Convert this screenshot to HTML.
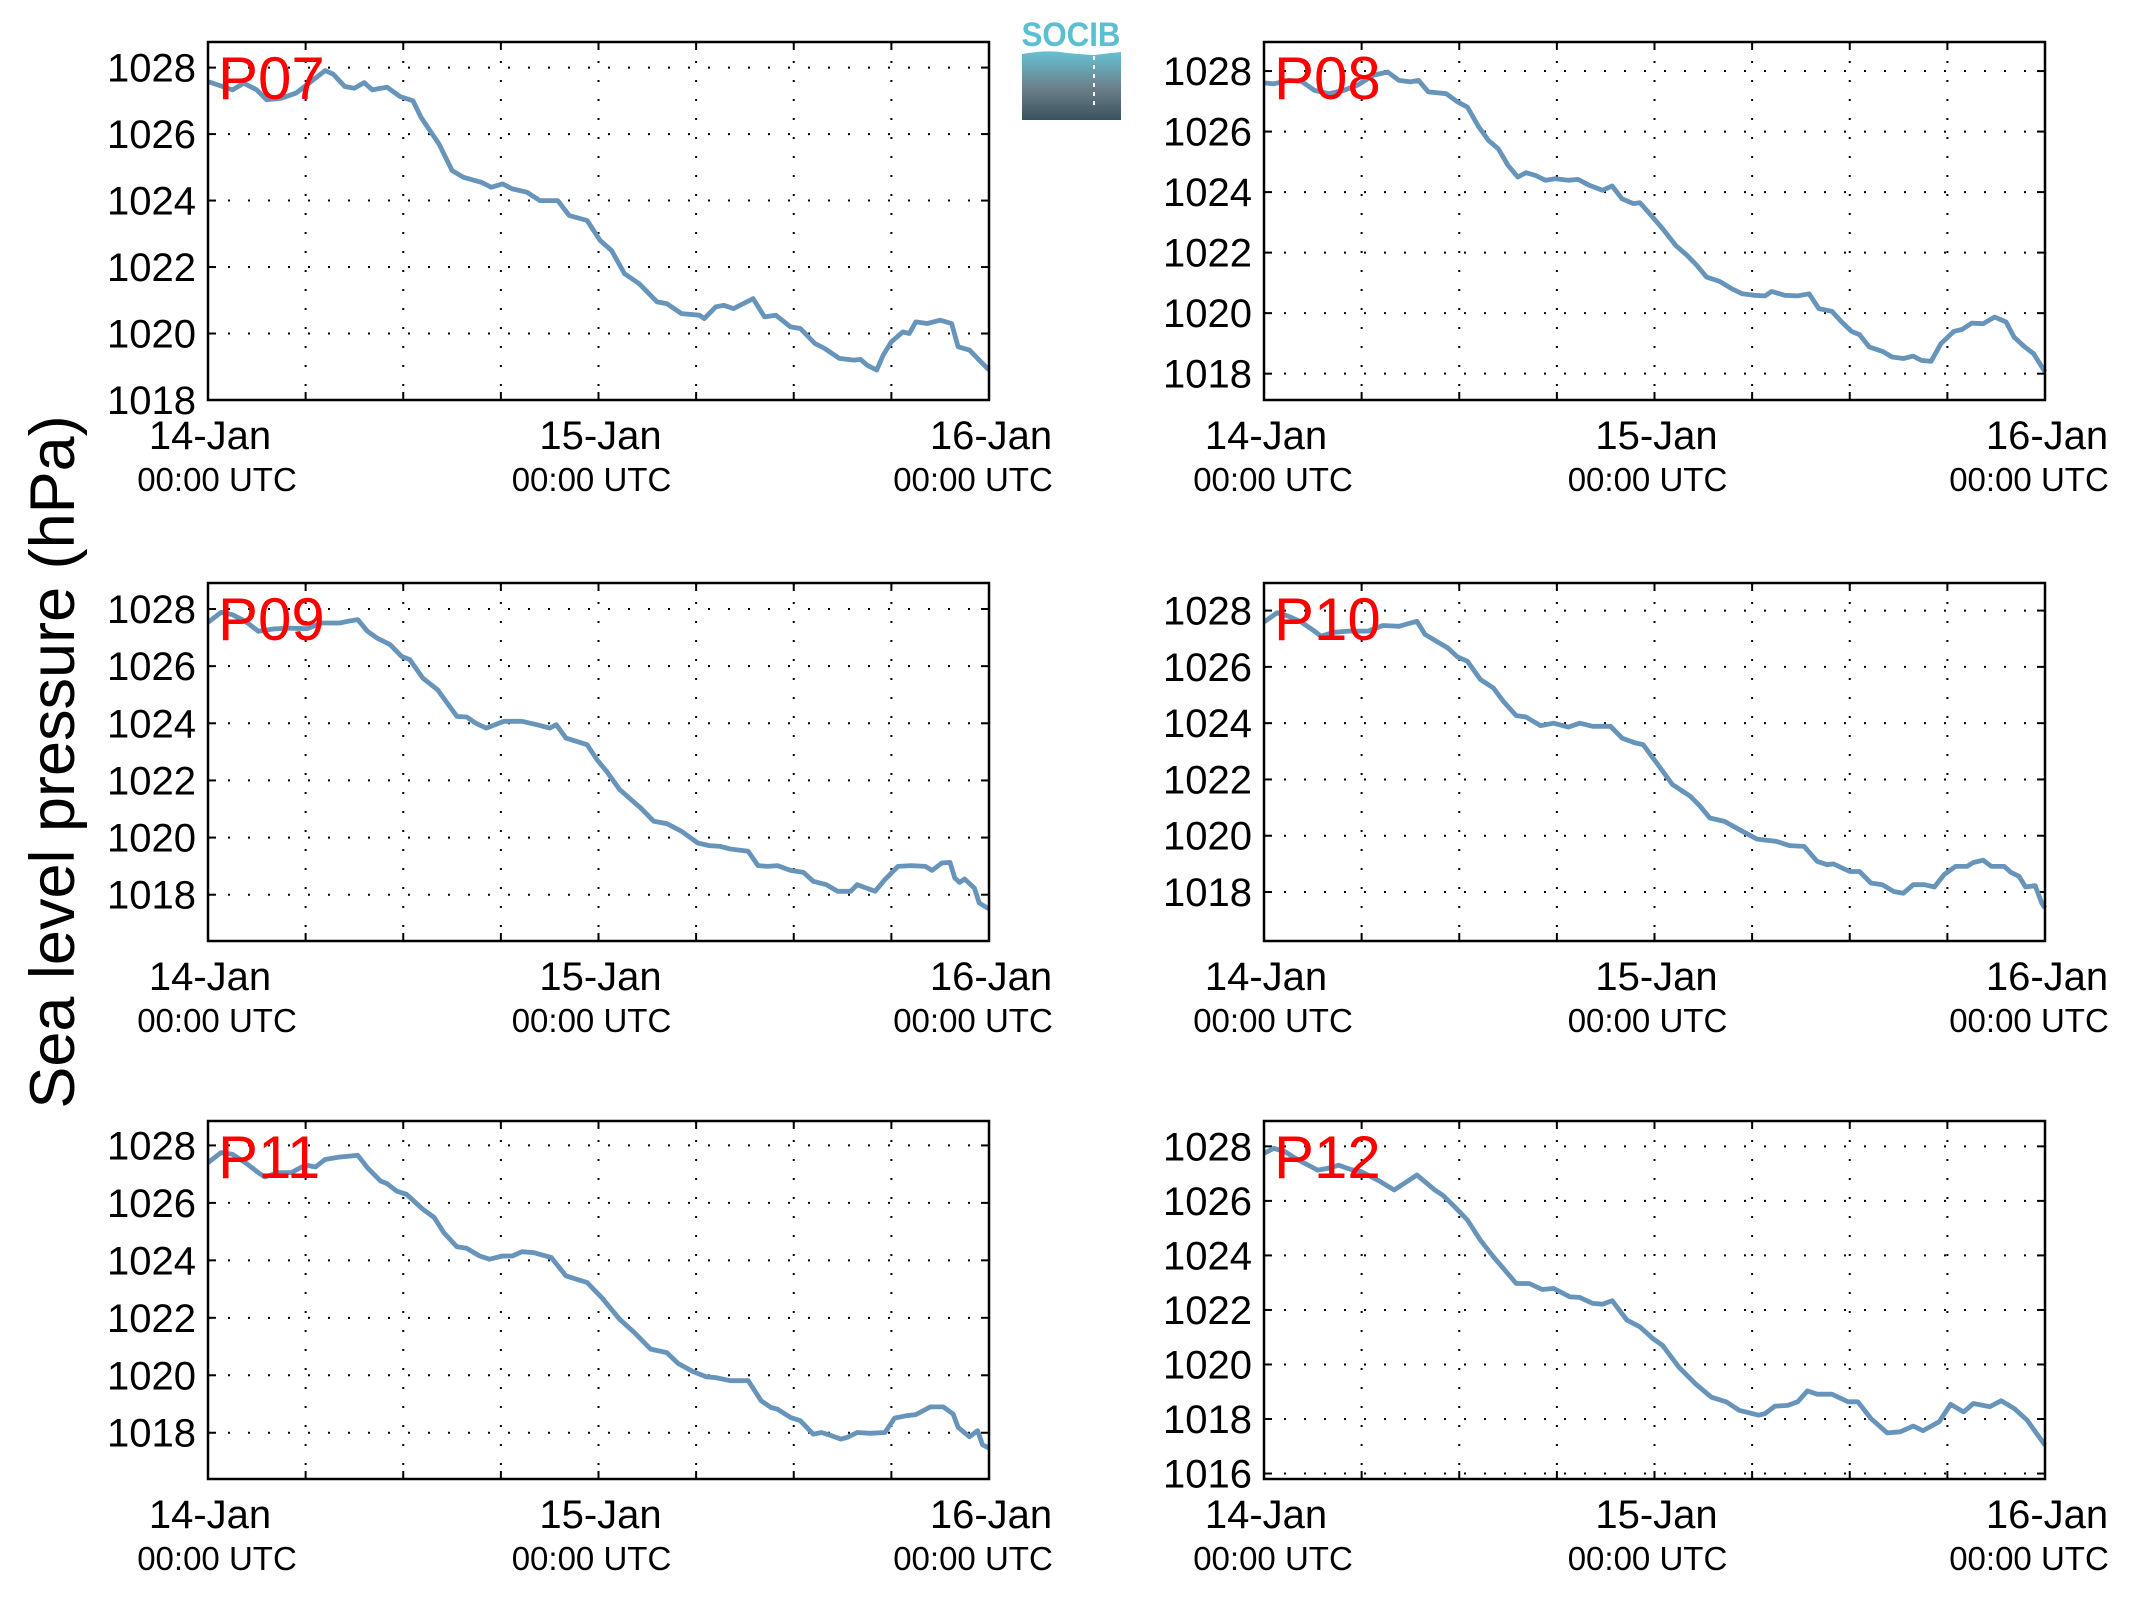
<!DOCTYPE html>
<html><head><meta charset="utf-8"><style>
html,body{margin:0;padding:0;background:#fff;}
svg{display:block;}
text{font-family:"Liberation Sans",Arial,sans-serif;}
</style></head><body>
<svg id="fig" width="2138" height="1608" viewBox="0 0 2138 1608" xmlns="http://www.w3.org/2000/svg">
<rect width="2138" height="1608" fill="#fff"/>
<g id="logo">
<defs><linearGradient id="lg" x1="0" y1="0" x2="0" y2="1"><stop offset="0" stop-color="#66c1d3"/><stop offset="0.55" stop-color="#6a7f88"/><stop offset="1" stop-color="#3a5260"/></linearGradient></defs>
<text x="1071" y="46" text-anchor="middle" font-size="34" font-weight="bold" fill="#5bbfd2" textLength="99" lengthAdjust="spacingAndGlyphs">SOCIB</text>
<path d="M1022,54 Q1045,50 1060,52 T1094,55 Q1110,53 1121,52 L1121,120 L1022,120 Z" fill="url(#lg)"/>
<line x1="1094" y1="56" x2="1094" y2="106" stroke="#fff" stroke-width="2" stroke-dasharray="4,5"/>
</g>
<text transform="translate(74,762) rotate(-90)" text-anchor="middle" font-size="63" fill="#000">Sea level pressure (hPa)</text>
<g id="panels"></g>
</svg>
<script>
const p07Hours=[0,0.6,1.5,2.2,3,3.6,4.5,5.4,6.2,7.2,7.7,8.4,9,9.6,10.1,11,11.8,12.6,13.1,14.2,15,15.7,16.8,17.4,18.1,18.7,19.6,20.4,21.5,22.2,23.3,24.1,24.8,25.6,26.5,27.6,28.2,29.1,30.2,30.5,31.2,31.7,32.3,33.5,34.2,34.9,35.8,36.4,37.3,37.9,38.8,39.7,40.1,40.5,41.1,41.5,42,42.7,43.1,43.5,44.2,45,45.7,46.1,46.8,47.4,48];
const p07Values=[1027.58,1027.48,1027.33,1027.53,1027.33,1027.03,1027.08,1027.23,1027.53,1027.91,1027.8,1027.43,1027.38,1027.55,1027.33,1027.41,1027.13,1027.0,1026.5,1025.7,1024.9,1024.7,1024.55,1024.4,1024.5,1024.35,1024.25,1024.0,1024.0,1023.55,1023.4,1022.8,1022.5,1021.8,1021.5,1020.95,1020.9,1020.6,1020.55,1020.45,1020.8,1020.85,1020.75,1021.05,1020.5,1020.55,1020.2,1020.15,1019.7,1019.55,1019.25,1019.2,1019.22,1019.05,1018.9,1019.35,1019.75,1020.05,1020.0,1020.35,1020.3,1020.4,1020.3,1019.6,1019.5,1019.2,1018.9];
const p08Hours=[0,0.6,1.5,2.3,3.1,4,4.9,5.8,6.7,7.6,8.3,9,9.5,10.1,11.2,11.9,12.5,13.2,13.8,14.4,15,15.6,16.1,16.7,17.3,17.9,18.7,19.3,20,20.8,21.4,22,22.7,23.1,23.7,24.5,25.3,26,26.6,27.2,28,28.8,29.4,30.1,30.8,31.2,32,32.8,33.5,34.1,34.9,35.5,36.1,36.6,37.2,38,38.6,39.3,39.9,40.4,41,41.6,42.4,42.9,43.5,44.2,44.9,45.6,46.1,46.7,47.3,48];
const p08Values=[1027.61,1027.58,1027.69,1027.66,1027.36,1027.25,1027.36,1027.55,1027.86,1027.97,1027.69,1027.64,1027.69,1027.31,1027.25,1026.98,1026.81,1026.15,1025.71,1025.43,1024.88,1024.5,1024.64,1024.55,1024.39,1024.44,1024.39,1024.42,1024.22,1024.06,1024.2,1023.78,1023.62,1023.65,1023.29,1022.79,1022.24,1021.91,1021.58,1021.19,1021.05,1020.79,1020.64,1020.59,1020.57,1020.72,1020.59,1020.57,1020.64,1020.15,1020.06,1019.71,1019.4,1019.29,1018.88,1018.74,1018.55,1018.5,1018.58,1018.44,1018.41,1018.99,1019.4,1019.46,1019.67,1019.65,1019.87,1019.71,1019.21,1018.91,1018.66,1018.06];
const p09Hours=[0,0.8,1.5,2.3,3.1,4,4.9,6.1,7,8.1,8.6,9.2,9.8,10.4,11.2,11.9,12.4,13.2,14.1,14.7,15.3,15.9,16.5,17.1,18.2,19.3,20.2,21,21.4,22,23.3,23.9,24.5,25.3,26,26.6,27.4,28.2,29.1,30.1,30.8,31.5,32.1,33.2,33.8,34.4,35,35.8,36.6,37.2,38,38.7,39.5,39.9,41,41.6,42.4,43.2,44.1,44.5,45.1,45.6,45.9,46.2,46.5,47.1,47.4,48];
const p09Values=[1027.53,1027.88,1027.8,1027.57,1027.22,1027.3,1027.33,1027.31,1027.51,1027.51,1027.57,1027.63,1027.22,1026.98,1026.75,1026.34,1026.23,1025.58,1025.18,1024.71,1024.24,1024.22,1023.99,1023.83,1024.07,1024.07,1023.95,1023.83,1023.95,1023.48,1023.25,1022.73,1022.32,1021.68,1021.33,1021.03,1020.57,1020.49,1020.22,1019.81,1019.72,1019.69,1019.6,1019.52,1019.02,1018.99,1019.02,1018.85,1018.78,1018.47,1018.35,1018.12,1018.12,1018.35,1018.12,1018.53,1018.99,1019.02,1018.99,1018.85,1019.11,1019.13,1018.58,1018.43,1018.55,1018.23,1017.71,1017.5];
const p10Hours=[0,0.8,1.5,2.3,3.1,3.5,4.3,5.2,6.4,7.3,8.3,8.9,9.4,9.9,10.6,11.3,11.9,12.5,13.3,14.1,14.7,15.5,16.1,17,17.8,18.7,19.4,20.2,21.3,22,22.8,23.3,24.2,25.1,26.2,26.8,27.4,28.3,29.2,30.3,30.9,31.5,32.3,33.2,34,34.6,35,36,36.6,37.3,38,38.7,39.3,39.9,40.6,41.2,41.8,42.5,43.2,43.6,44.2,44.7,45.5,45.9,46.4,46.8,47.4,47.8,48];
const p10Values=[1027.59,1027.92,1027.8,1027.59,1027.27,1027.09,1027.23,1027.27,1027.27,1027.47,1027.44,1027.54,1027.62,1027.15,1026.91,1026.67,1026.35,1026.2,1025.55,1025.25,1024.78,1024.27,1024.22,1023.91,1024.0,1023.86,1024.0,1023.89,1023.89,1023.47,1023.3,1023.24,1022.53,1021.82,1021.4,1021.05,1020.63,1020.51,1020.22,1019.88,1019.84,1019.8,1019.65,1019.62,1019.09,1018.97,1019.0,1018.73,1018.73,1018.32,1018.26,1018.02,1017.96,1018.26,1018.26,1018.18,1018.62,1018.91,1018.91,1019.05,1019.13,1018.91,1018.91,1018.7,1018.56,1018.18,1018.23,1017.61,1017.43];
const p11Hours=[0,0.8,1.5,2.3,3.1,3.5,4.3,5.1,6,6.6,7.2,8,8.7,9.2,9.8,10.6,11,11.6,12.2,13.2,13.9,14.5,15.3,15.9,16.7,17.3,18.1,18.7,19.3,20,21.1,22,23.3,24.2,25.3,26.2,27.2,28.2,28.9,29.8,30.6,31.2,32.1,33.2,34,34.6,35,35.8,36.4,37.2,37.7,38.3,38.9,39.3,39.9,40.7,41.6,42.2,42.9,43.5,44.4,45.2,45.8,46.1,46.8,47.3,47.6,48];
const p11Values=[1027.4,1027.75,1027.69,1027.4,1027.05,1026.9,1027.05,1027.05,1027.32,1027.25,1027.51,1027.59,1027.63,1027.66,1027.22,1026.76,1026.67,1026.41,1026.3,1025.78,1025.49,1024.96,1024.47,1024.42,1024.15,1024.04,1024.15,1024.15,1024.3,1024.27,1024.1,1023.46,1023.23,1022.7,1021.95,1021.49,1020.91,1020.79,1020.41,1020.13,1019.95,1019.92,1019.81,1019.81,1019.11,1018.88,1018.82,1018.53,1018.42,1017.95,1018.01,1017.9,1017.78,1017.84,1018.01,1017.98,1018.01,1018.51,1018.59,1018.63,1018.9,1018.9,1018.65,1018.19,1017.86,1018.07,1017.58,1017.47];
const p12Hours=[0,0.6,1.3,2.1,3.3,3.9,4.6,5.3,6,7,8,9.4,10.5,11,11.7,12.5,13.3,14.1,14.8,15.5,16.3,17.1,17.8,18.8,19.4,20.2,20.8,21.4,22.3,23.1,23.9,24.5,25.5,26.5,27.5,28.4,29.2,30.4,30.8,31.4,32.2,32.8,33.4,34,34.9,35.9,36.5,37.3,38.3,39.1,39.9,40.5,41.5,42.2,43,43.6,44.6,45.3,46.1,46.9,48];
const p12Values=[1027.74,1027.93,1027.8,1027.5,1027.13,1027.19,1027.31,1027.16,1027.07,1026.76,1026.4,1026.95,1026.4,1026.2,1025.79,1025.3,1024.56,1023.95,1023.46,1022.97,1022.97,1022.75,1022.79,1022.48,1022.46,1022.24,1022.21,1022.34,1021.63,1021.38,1020.95,1020.7,1019.9,1019.3,1018.8,1018.63,1018.32,1018.14,1018.2,1018.47,1018.5,1018.63,1019.03,1018.91,1018.91,1018.63,1018.63,1018.02,1017.49,1017.53,1017.74,1017.57,1017.9,1018.54,1018.26,1018.57,1018.45,1018.67,1018.39,1017.96,1017.04];
const stationNames=["P07","P08","P09","P10","P11","P12"];
const yTicksDefault=[1018,1020,1022,1024,1026,1028];
const yTicksP12=[1016,1018,1020,1022,1024,1026,1028];
const xTickLabels=["14-Jan","15-Jan","16-Jan"];
const xTickSub="00:00 UTC";

const NS="http://www.w3.org/2000/svg";
function mk(tag,attrs,parent){const e=document.createElementNS(NS,tag);for(const k in attrs)e.setAttribute(k,attrs[k]);parent.appendChild(e);return e;}
const panelsG=document.getElementById('panels');
const layouts=[
 {x:208,y:42,ymin:1018,ymax:1028.77},
 {x:1264,y:42,ymin:1017.13,ymax:1028.96},
 {x:208,y:583,ymin:1016.38,ymax:1028.91},
 {x:1264,y:583,ymin:1016.26,ymax:1028.98},
 {x:208,y:1121,ymin:1016.39,ymax:1028.85},
 {x:1264,y:1121,ymin:1015.8,ymax:1028.93}
];
const subOffsets=[9,-7,-16];
const series=[[p07Hours,p07Values],[p08Hours,p08Values],[p09Hours,p09Values],[p10Hours,p10Values],[p11Hours,p11Values],[p12Hours,p12Values]];
const W=781,H=358;
layouts.forEach((L,i)=>{
  const g=mk('g',{},panelsG);
  
  
  const xs=h=>L.x+h/48*W;
  const ys=v=>L.y+H-(v-L.ymin)/(L.ymax-L.ymin)*H;
  const ticks=i===5?yTicksP12:yTicksDefault;
  for(let k=1;k<8;k++){
    const gx=xs(k*6);
    const l=mk('line',{x1:gx,y1:L.y,x2:gx,y2:L.y+H,stroke:'#000','stroke-width':2,'stroke-dasharray':'2,17'},g);
    
    
    mk('line',{x1:gx,y1:L.y+H,x2:gx,y2:L.y+H-8,stroke:'#000','stroke-width':2},g);
    mk('line',{x1:gx,y1:L.y,x2:gx,y2:L.y+8,stroke:'#000','stroke-width':2},g);
  }
  ticks.forEach(t=>{
    const gy=ys(t);
    const l=mk('line',{x1:L.x,y1:gy,x2:L.x+W,y2:gy,stroke:'#000','stroke-width':2,'stroke-dasharray':'2,18'},g);
    
    
    mk('line',{x1:L.x,y1:gy,x2:L.x+8,y2:gy,stroke:'#000','stroke-width':2},g);
    mk('line',{x1:L.x+W,y1:gy,x2:L.x+W-8,y2:gy,stroke:'#000','stroke-width':2},g);
    const tx=mk('text',{x:L.x-12,y:gy+14,'text-anchor':'end','font-size':40,fill:'#000'},g);
    tx.textContent=t;
    
    
  });
  const [hs,vs]=series[i];
  const d=hs.map((h,j)=>(j?'L':'M')+xs(h).toFixed(1)+','+ys(vs[j]).toFixed(1)).join(' ');
  const p=mk('path',{d:d,fill:'none',stroke:'#6794ba','stroke-width':4.8,'stroke-linejoin':'round'},g);
  
  
  const fr=mk('rect',{x:L.x,y:L.y,width:W,height:H,fill:'none',stroke:'#000','stroke-width':2.5},g);
  
  
  const lb=mk('text',{x:L.x+10,y:L.y+57,'font-size':60,fill:'#ff0000'},g);
  lb.textContent=stationNames[i];
  
  
  xTickLabels.forEach((s,k)=>{
    const cx=xs(k*24);
    const t1=mk('text',{x:cx+2,y:L.y+H+49,'text-anchor':'middle','font-size':40,fill:'#000'},g);
    t1.textContent=s;
    
    
    const t2=mk('text',{x:cx+subOffsets[k],y:L.y+H+91,'text-anchor':'middle','font-size':33,fill:'#000'},g);
    t2.textContent=xTickSub;
    
    
  });
});
</script>
</body></html>
